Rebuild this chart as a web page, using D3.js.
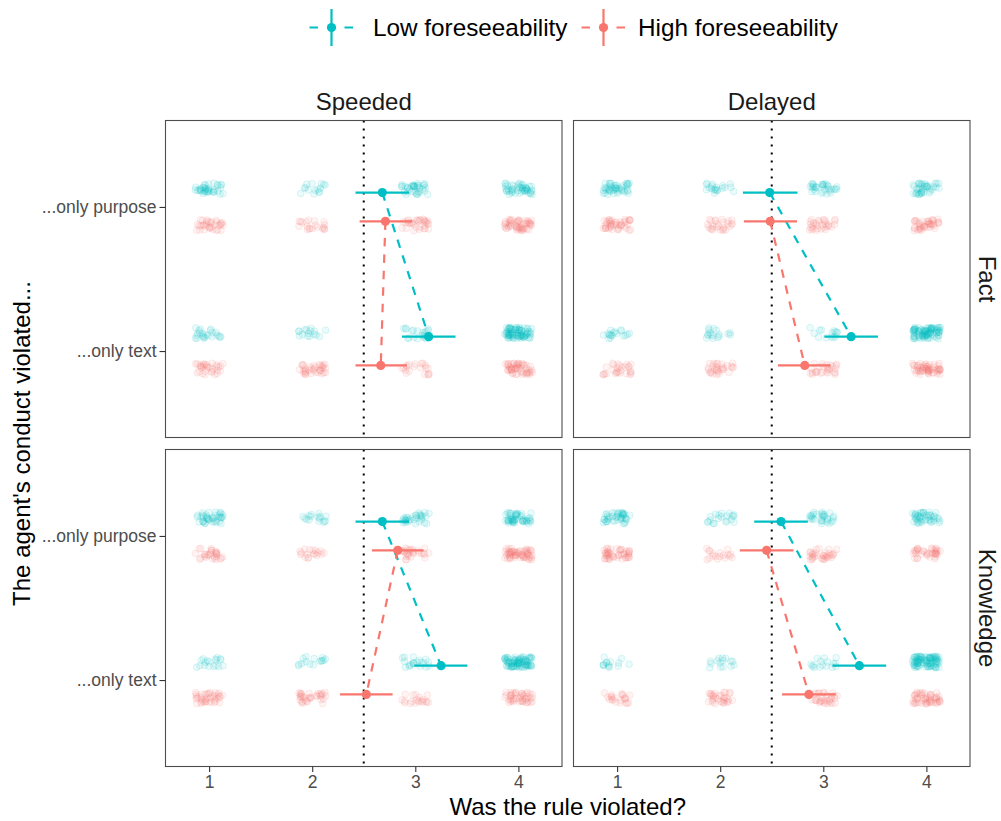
<!DOCTYPE html>
<html>
<head>
<meta charset="utf-8">
<script src="https://cdn.jsdelivr.net/npm/d3@7"></script>
<style>
  body { margin: 0; background: #fff; }
  text { font-family: "Liberation Sans", Arial, Helvetica, sans-serif; }
</style>
</head>
<body>
<script>
// ---------------- DATA ----------------
const columnLabels = ["Speeded", "Delayed"];
const rowLabels = ["Fact", "Knowledge"];
const vignettes = ["...only purpose", "...only text"];
const groups = ["Low foreseeability", "High foreseeability"];
const xTicks = [1, 2, 3, 4];
const responses = [1, 2, 3, 4];

// panels order: Fact|Speeded, Fact|Delayed, Knowledge|Speeded, Knowledge|Delayed
// inner arrays: [...only purpose, ...only text]
const lowMean  = [[2.68, 3.13], [2.48, 3.27], [2.68, 3.25], [2.59, 3.35]];
const lowLo    = [[2.42, 2.87], [2.22, 3.01], [2.42, 2.99], [2.33, 3.09]];
const lowHi    = [[2.94, 3.39], [2.75, 3.53], [2.94, 3.505], [2.85, 3.61]];
const highMean = [[2.71, 2.665], [2.485, 2.82], [2.83, 2.525], [2.45, 2.86]];
const highLo   = [[2.46, 2.42], [2.23, 2.56], [2.58, 2.27], [2.19, 2.60]];
const highHi   = [[2.97, 2.92], [2.745, 3.07], [3.08, 2.78], [2.71, 3.12]];

// raw responses: number of participants answering 1..4 (estimated from cloud density)
const lowCounts = [
  [[38, 15, 36, 48], [24, 16, 22, 84]],
  [[46, 20, 32, 40], [18, 17, 14, 92]],
  [[40, 16, 32, 52], [18, 15, 20, 86]],
  [[42, 20, 30, 46], [14, 15, 16, 94]]
];
const highCounts = [
  [[34, 20, 32, 54], [32, 36, 20, 54]],
  [[44, 26, 30, 42], [28, 30, 28, 58]],
  [[30, 18, 28, 62], [40, 34, 20, 46]],
  [[48, 18, 34, 38], [22, 32, 32, 54]]
];
const referenceLine = 2.5;

// ---------------- LAYOUT ----------------
const W = 1001, H = 821;
const colors = ["#00BFC4", "#F8766D"];
const panelLeft = 165.5, panelTop = 120.5;
const panelW = 396.5, panelH = 317, gapX = 11.5, gapY = 12;
const fontMain = 24, fontTick = 17.5;

const means = [lowMean, highMean], los = [lowLo, highLo], his = [lowHi, highHi];
const counts = [lowCounts, highCounts];

const svg = d3.select("body").append("svg")
  .attr("width", W).attr("height", H)
  .style("background", "#fff");

// deterministic jitter generator (position adjustment only)
function mulberry32(a) {
  return function () {
    a |= 0; a = a + 0x6D2B79F5 | 0;
    let t = Math.imul(a ^ a >>> 15, 1 | a);
    t = t + Math.imul(t ^ t >>> 7, 61 | t) ^ t;
    return ((t ^ t >>> 14) >>> 0) / 4294967296;
  };
}
const rand = mulberry32(2024);

const x = d3.scaleLinear().domain([0.577, 4.423]).range([0, panelW]);
const y = d3.scalePoint().domain(vignettes).range([0, panelH]).padding(0.6);
const step = y.step();
const groupOffset = [-0.125, 0.125];
const meanOffset = [-0.1, 0.1];

rowLabels.forEach((rowName, ri) => {
  columnLabels.forEach((colName, ci) => {
    const p = ri * 2 + ci;
    const x0 = panelLeft + ci * (panelW + gapX);
    const y0 = panelTop + ri * (panelH + gapY);
    const g = svg.append("g").attr("transform", `translate(${x0},${y0})`);

    // jittered raw responses
    const pts = [];
    groups.forEach((grp, gi) => {
      vignettes.forEach((v, vi) => {
        responses.forEach((r, k) => {
          const n = counts[gi][p][vi][k];
          for (let j = 0; j < n; j++) {
            pts.push({
              gi,
              cx: x(r + (rand() * 2 - 1) * 0.135),
              cy: y(v) + groupOffset[gi] * step + (rand() * 2 - 1) * 0.04 * step
            });
          }
        });
      });
    });
    g.append("g").selectAll("circle").data(pts).join("circle")
      .attr("cx", d => d.cx).attr("cy", d => d.cy).attr("r", 3.4)
      .attr("fill", d => colors[d.gi]).attr("fill-opacity", 0.08)
      .attr("stroke", d => colors[d.gi]).attr("stroke-opacity", 0.16)
      .attr("stroke-width", 0.8);

    // reference dotted line
    g.append("line")
      .attr("x1", x(referenceLine)).attr("x2", x(referenceLine))
      .attr("y1", 0).attr("y2", panelH)
      .attr("stroke", "#000").attr("stroke-width", 2)
      .attr("stroke-dasharray", "2,6");

    // dashed connecting lines, error bars, points
    groups.forEach((grp, gi) => {
      const md = vignettes.map((v, vi) => ({
        v, m: means[gi][p][vi], lo: los[gi][p][vi], hi: his[gi][p][vi]
      }));
      const line = d3.line()
        .x(d => x(d.m))
        .y(d => y(d.v) + meanOffset[gi] * step);
      g.append("path").datum(md).attr("d", line)
        .attr("fill", "none").attr("stroke", colors[gi])
        .attr("stroke-width", 2.2).attr("stroke-dasharray", "8.5,8");
      g.append("g").selectAll("line").data(md).join("line")
        .attr("x1", d => x(d.lo)).attr("x2", d => x(d.hi))
        .attr("y1", d => y(d.v) + meanOffset[gi] * step)
        .attr("y2", d => y(d.v) + meanOffset[gi] * step)
        .attr("stroke", colors[gi]).attr("stroke-width", 2.2);
      g.append("g").selectAll("circle").data(md).join("circle")
        .attr("cx", d => x(d.m))
        .attr("cy", d => y(d.v) + meanOffset[gi] * step)
        .attr("r", 4.6).attr("fill", colors[gi]);
    });

    // panel border
    g.append("rect").attr("x", 0).attr("y", 0)
      .attr("width", panelW).attr("height", panelH)
      .attr("fill", "none").attr("stroke", "#4d4d4d").attr("stroke-width", 1.1);

    // axes
    if (ri === rowLabels.length - 1) {
      const ax = g.append("g").attr("transform", `translate(0,${panelH})`)
        .call(d3.axisBottom(x).tickValues(xTicks).tickFormat(d3.format("d"))
          .tickSize(5.5).tickPadding(4));
      ax.select(".domain").remove();
      ax.selectAll(".tick line").attr("stroke", "#333").attr("stroke-width", 1.1);
      ax.selectAll(".tick text").attr("fill", "#4d4d4d")
        .style("font-size", fontTick + "px")
        .style("font-family", "Liberation Sans, Arial, sans-serif");
    }
    if (ci === 0) {
      const ay = g.append("g")
        .call(d3.axisLeft(y).tickSize(6).tickPadding(3));
      ay.select(".domain").remove();
      ay.selectAll(".tick line").attr("stroke", "#333").attr("stroke-width", 1.1);
      ay.selectAll(".tick text").attr("fill", "#4d4d4d")
        .style("font-size", fontTick + "px")
        .style("font-family", "Liberation Sans, Arial, sans-serif");
    }

    // strips
    if (ri === 0) {
      svg.append("text")
        .attr("x", x0 + panelW / 2).attr("y", panelTop - 11)
        .attr("text-anchor", "middle")
        .style("font-size", fontMain + "px").attr("fill", "#1a1a1a")
        .text(colName);
    }
    if (ci === columnLabels.length - 1) {
      const cx = x0 + panelW + 9, cy = y0 + panelH / 2;
      svg.append("text")
        .attr("transform", `translate(${cx},${cy}) rotate(90)`)
        .attr("text-anchor", "middle")
        .style("font-size", fontMain + "px").attr("fill", "#1a1a1a")
        .text(rowName);
    }
  });
});

// axis titles
const plotLeft = panelLeft, plotRight = panelLeft + 2 * panelW + gapX;
const plotTop = panelTop, plotBottom = panelTop + 2 * panelH + gapY;
svg.append("text")
  .attr("x", (plotLeft + plotRight) / 2).attr("y", 815)
  .attr("text-anchor", "middle")
  .style("font-size", fontMain + "px").attr("fill", "#000")
  .text("Was the rule violated?");
svg.append("text")
  .attr("transform", `translate(30,${(plotTop + plotBottom) / 2}) rotate(-90)`)
  .attr("text-anchor", "middle")
  .style("font-size", fontMain + "px").attr("fill", "#000")
  .text("The agent's conduct violated...");

// legend
const legendY = 27.5;
const legendItems = [
  { label: groups[0], color: colors[0], keyX: 309.5, textX: 373 },
  { label: groups[1], color: colors[1], keyX: 581.5, textX: 638 }
];
const lg = svg.append("g");
legendItems.forEach(it => {
  lg.append("line")
    .attr("x1", it.keyX).attr("x2", it.keyX + 44)
    .attr("y1", legendY).attr("y2", legendY)
    .attr("stroke", it.color).attr("stroke-width", 2.2)
    .attr("stroke-dasharray", "8.5,9");
  lg.append("line")
    .attr("x1", it.keyX + 22).attr("x2", it.keyX + 22)
    .attr("y1", legendY - 18.5).attr("y2", legendY + 18.5)
    .attr("stroke", it.color).attr("stroke-width", 2.2);
  lg.append("circle")
    .attr("cx", it.keyX + 22).attr("cy", legendY).attr("r", 4.6)
    .attr("fill", it.color);
  lg.append("text")
    .attr("x", it.textX).attr("y", legendY + 8.6)
    .style("font-size", (fontMain + 0.3) + "px").attr("fill", "#000")
    .text(it.label);
});
</script>
</body>
</html>
